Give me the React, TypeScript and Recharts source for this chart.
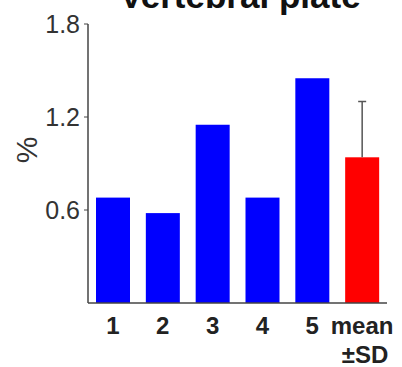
import React from "react";
import { BarChart, Bar, XAxis, YAxis, Cell } from "recharts";

const categories = ["1", "2", "3", "4", "5", "mean ±SD"];
const values = [0.68, 0.58, 1.15, 0.68, 1.45, 0.94];
const sdValues = [0, 0, 0, 0, 0, 0.36];
const yTicks = [0.6, 1.2, 1.8];
const barColors = ["#0000FF", "#0000FF", "#0000FF", "#0000FF", "#0000FF", "#FF0000"];

const data = categories.map((c, i) => ({ name: c, value: values[i], sd: sdValues[i] }));

const FONT = "'Liberation Sans', Arial, sans-serif";

const XTick = (props: any) => {
    const { x, y, payload } = props;
    const lines = String(payload.value).split(" ");
    return (
        <g transform={`translate(${x},${y})`}>
            <text textAnchor="middle" fontFamily={FONT} fontWeight="bold" fontSize={24} fill="#222">
                {lines.map((l, i) => (
                    <tspan key={i} x={i === 0 ? 0 : 3} dy={i === 0 ? 23 : 29}>
                        {l}
                    </tspan>
                ))}
            </text>
        </g>
    );
};

// bar with an upward-only error whisker
const BarWithSd = (props: any) => {
    const { x, y, width, height, fill, payload } = props;
    const sd = payload.sd;
    const pxPerUnit = payload.value ? height / payload.value : 0;
    const cx = x + width / 2;
    const top = y - sd * pxPerUnit;
    return (
        <g>
            <rect x={x} y={y} width={width} height={height} fill={fill} />
            {sd > 0 && (
                <g stroke="#555" strokeWidth={1.5}>
                    <line x1={cx} y1={y} x2={cx} y2={top} />
                    <line x1={cx - 4} y1={top} x2={cx + 4} y2={top} />
                </g>
            )}
        </g>
    );
};

export default function App() {
    return (
        <div style={{ position: "absolute", left: 0, top: 0, width: 402, height: 367, background: "#fff" }}>
            <BarChart
                width={402}
                height={367}
                data={data}
                margin={{ top: 24, right: 15, left: 28, bottom: 4 }}
                barCategoryGap={8}
            >
                <text x={240} y={8} textAnchor="middle" fontFamily={FONT} fontWeight="bold" fontSize={35} fill="#111">
                    Vertebral plate
                </text>
                <text
                    x={0}
                    y={0}
                    transform="translate(37,150) rotate(-90)"
                    textAnchor="middle"
                    fontFamily={FONT}
                    fontSize={30}
                    fill="#333"
                >
                    %
                </text>
                <XAxis
                    dataKey="name"
                    height={60}
                    tick={<XTick />}
                    tickLine={false}
                    axisLine={{ stroke: "#444", strokeWidth: 1.5 }}
                    interval={0}
                />
                <YAxis
                    width={60}
                    domain={[0, 1.8]}
                    ticks={yTicks}
                    tickSize={4}
                    tickMargin={4}
                    tickLine={{ stroke: "#444" }}
                    axisLine={{ stroke: "#444", strokeWidth: 1.5 }}
                    tick={{ fontFamily: FONT, fontSize: 25, fill: "#333" }}
                />
                <Bar dataKey="value" barSize={34} isAnimationActive={false} shape={<BarWithSd />}>
                    {data.map((d, i) => (
                        <Cell key={i} fill={barColors[i]} />
                    ))}
                </Bar>
            </BarChart>
        </div>
    );
}
